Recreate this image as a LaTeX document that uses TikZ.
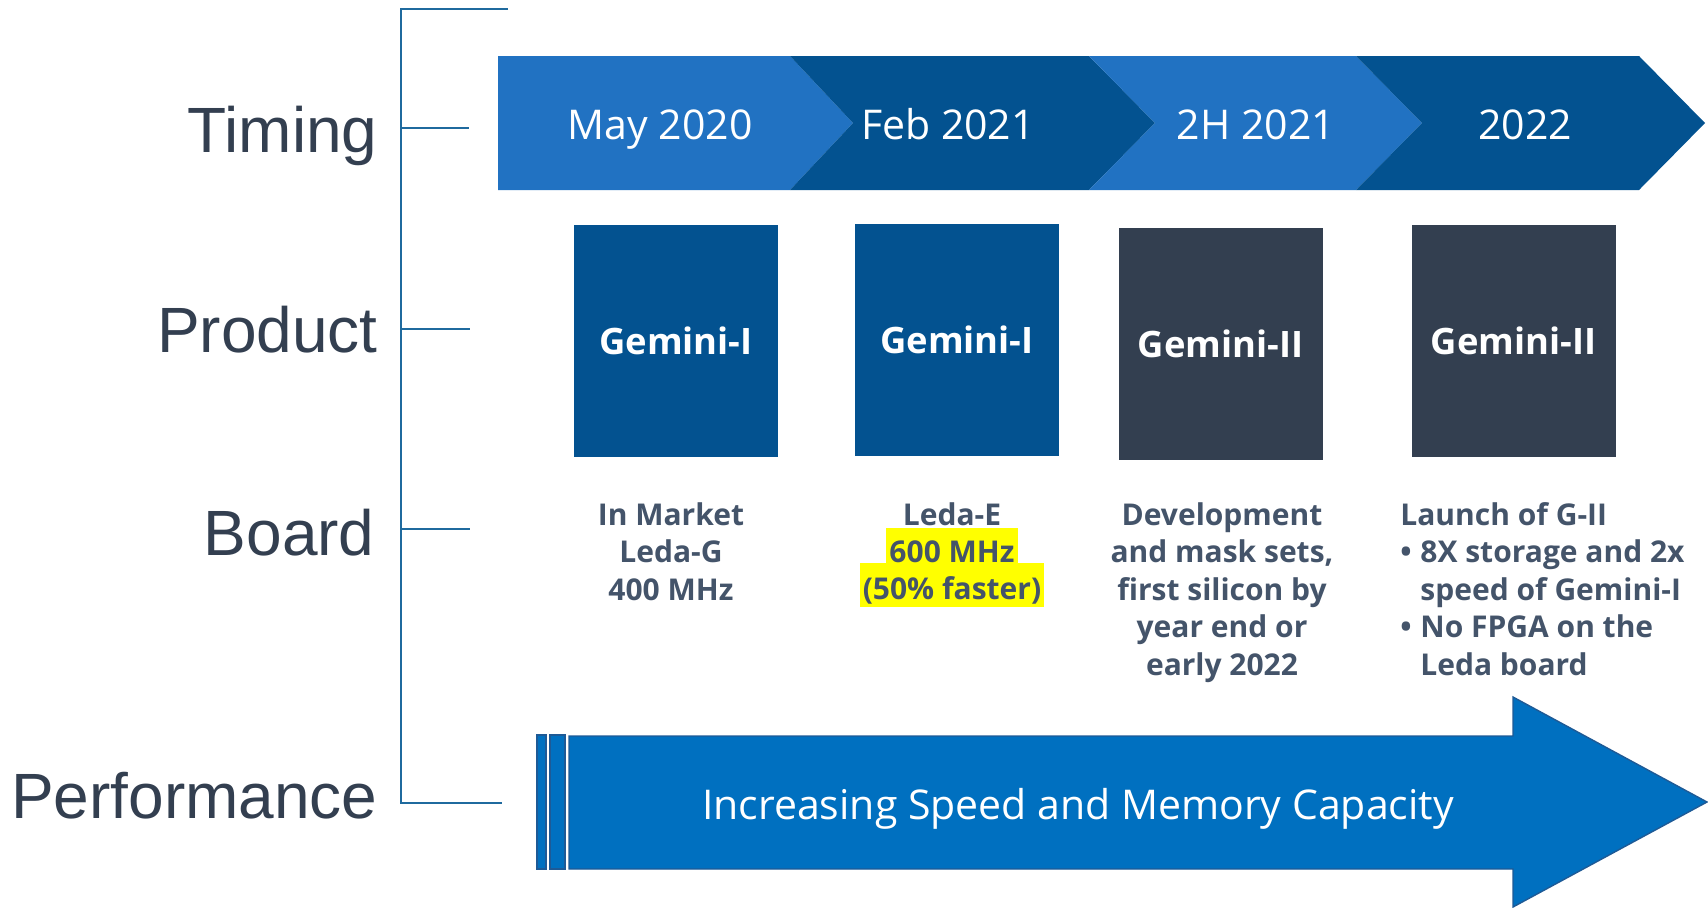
\documentclass[tikz,border=0pt]{standalone}
\usepackage{fontspec}
\setmainfont{Open Sans}
\newfontfamily\labelfont{Liberation Sans}
\definecolor{labelc}{RGB}{51,63,80}
\definecolor{brackc}{RGB}{31,106,158}
\definecolor{chevlight}{RGB}{33,114,194}
\definecolor{chevdark}{RGB}{3,82,144}
\definecolor{slatebox}{RGB}{51,63,80}
\definecolor{boardc}{RGB}{68,84,106}
\definecolor{arrowfill}{RGB}{0,112,192}
\definecolor{arrowedge}{RGB}{30,90,150}
\definecolor{hilite}{RGB}{255,255,0}
\begin{document}
\begin{tikzpicture}[x=0.5pt,y=-0.5pt,
  rowlabel/.style={anchor=base east,inner sep=0pt,text=labelc,font=\labelfont\fontsize{32}{36}\selectfont},
  bracketline/.style={draw=brackc,line width=1.2pt},
  chevtext/.style={anchor=base,inner sep=0pt,text=white,font=\fontsize{20.5}{24}\selectfont},
  prodbox/.style={minimum width=102pt,minimum height=116pt,inner sep=0pt,text=white,font=\bfseries\fontsize{18.2}{22}\selectfont},
  boardtext/.style={inner sep=0pt,text=boardc,font=\bfseries\fontsize{15}{18.75}\selectfont},
  hl/.style={boardtext,anchor=base,fill=hilite,inner xsep=1.5pt,inner ysep=0pt},
  arrowpart/.style={fill=arrowfill,draw=arrowedge,line width=0.7pt}
]
\useasboundingbox (0,0) rectangle (1708,907);

% bracket
\coordinate (btop) at (508,9);
\coordinate (bcorner) at (401,9);
\coordinate (bbot) at (401,803);
\coordinate (bend) at (502,803);
\coordinate (t1a) at (401,128); \coordinate (t1b) at (469,128);
\coordinate (t2a) at (401,329); \coordinate (t2b) at (470,329);
\coordinate (t3a) at (401,529); \coordinate (t3b) at (470,529);
\draw[bracketline] (btop) -- (bcorner) -- (bbot) -- (bend);
\draw[bracketline] (t1a) -- (t1b);
\draw[bracketline] (t2a) -- (t2b);
\draw[bracketline] (t3a) -- (t3b);

% row labels
\node[rowlabel] (lTiming) at (378,152) {Timing};
\node[rowlabel] (lProduct) at (378,352) {Product};
\node[rowlabel] (lBoard) at (375,555) {Board};
\node[rowlabel] (lPerf) at (378,818) {Performance};

% chevrons
\fill[chevlight] (498,56) -- (790,56) -- (853,123) -- (790,190) -- (498,190) -- cycle;
\fill[chevdark] (790,56) -- (1089,56) -- (1155,123) -- (1089,190) -- (790,190) -- (853,123) -- cycle;
\fill[chevlight] (1089,56) -- (1356,56) -- (1422,123) -- (1356,190) -- (1089,190) -- (1155,123) -- cycle;
\fill[chevdark] (1356,56) -- (1639,56) -- (1705,123) -- (1639,190) -- (1356,190) -- (1422,123) -- cycle;
\node[chevtext] (c1) at (660,139) {May 2020};
\node[chevtext] (c2) at (948,139) {Feb 2021};
\node[chevtext] (c3) at (1256,139) {2H 2021};
\node[chevtext] (c4) at (1525,139) {2022};

% product boxes
\node[prodbox,fill=chevdark] (p1) at (676,341) {Gemini-I};
\node[prodbox,fill=chevdark] (p2) at (957,340) {Gemini-I};
\node[prodbox,fill=slatebox] (p3) at (1220.5,343.5) {Gemini-II};
\node[prodbox,fill=slatebox] (p4) at (1513.5,340.5) {Gemini-II};

% board texts
\node[boardtext,anchor=north,align=center] (b1) at (671,498.8) {\strut In Market\\Leda-G\\400 MHz};
\node[boardtext,anchor=base] (b2a) at (952,525) {Leda-E};
\node[hl,text height=17pt,text depth=0.75pt] (b2b) at (952,562) {600 MHz};
\node[hl,text height=18pt,text depth=4pt] (b2c) at (952,599) {(50\% faster)};
\node[boardtext,anchor=north,align=center] (b3) at (1222,498.8) {\strut Development\\and mask sets,\\first silicon by\\year end or\\early 2022};
\node[boardtext,anchor=north west,align=left] (b4) at (1400,498.8) {\strut Launch of G-II\\\makebox[10pt][l]{\textbullet}8X storage and 2x\\\hspace*{10pt}speed of Gemini-I\\\makebox[10pt][l]{\textbullet}No FPGA on the\\\hspace*{10pt}Leda board};

% performance arrow
\filldraw[arrowpart] (537,735) rectangle (546,869);
\filldraw[arrowpart] (550,735) rectangle (565,869);
\filldraw[arrowpart] (569,736) -- (1513,736) -- (1513,697) -- (1707,802) -- (1513,907) -- (1513,869) -- (569,869) -- cycle;
\node[chevtext] (perfText) at (1078,819) {Increasing Speed and Memory Capacity};
\end{tikzpicture}
\end{document}
